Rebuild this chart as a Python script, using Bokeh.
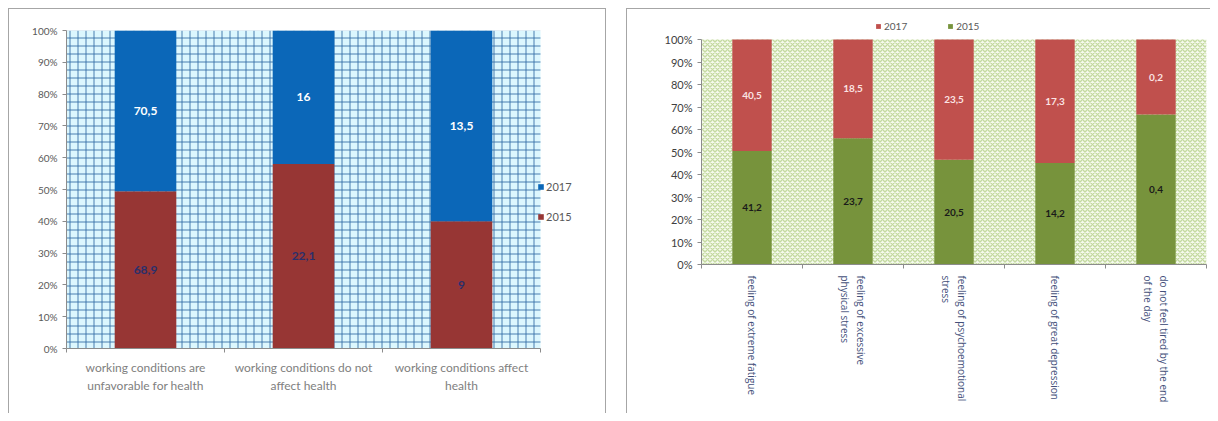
from bokeh.plotting import figure
from bokeh.models import (ColumnDataSource, Range1d, FixedTicker,
                          NumeralTickFormatter, BoxAnnotation, Legend, LegendItem)
from bokeh.layouts import row, column
from bokeh.core.properties import value
from bokeh.embed import file_html
from bokeh.resources import INLINE

# ---------------- data ----------------
left_categories = ["working conditions are\nunfavorable for health",
                   "working conditions do not\naffect health",
                   "working conditions affect\nhealth"]
left_2015 = [68.9, 22.1, 9]
left_2017 = [70.5, 16, 13.5]

right_categories = ["feeling of extreme fatigue",
                    "feeling of excessive\nphysical stress",
                    "feeling of psychoemotional\nstress",
                    "feeling of great depression",
                    "do not feel tired by the end\nof the day"]
right_2015 = [41.2, 23.7, 20.5, 14.2, 0.4]
right_2017 = [40.5, 18.5, 23.5, 17.3, 0.2]

y_ticks = [0, 0.1, 0.2, 0.3, 0.4, 0.5, 0.6, 0.7, 0.8, 0.9, 1.0]

FONT = "Lato"
BORDER = "1px solid #a6a6a6"


def fmt(v):
    return f"{v:g}".replace(".", ",")


def make_source(cats, a, b):
    tot = [x + y for x, y in zip(a, b)]
    fa = [x / t for x, t in zip(a, tot)]
    fb = [y / t for y, t in zip(b, tot)]
    return ColumnDataSource(dict(
        x=[i + 0.5 for i in range(len(cats))],
        f2015=fa, f2017=fb,
        mid2015=[v / 2 for v in fa],
        mid2017=[u + v / 2 for u, v in zip(fa, fb)],
        lab2015=[fmt(v) for v in a],
        lab2017=[fmt(v) for v in b],
    ))


def style_common(p, cats):
    n = len(cats)
    centers = [i + 0.5 for i in range(n)]
    p.xgrid.grid_line_color = None
    p.ygrid.grid_line_color = None
    p.outline_line_color = None
    p.background_fill_color = "white"
    p.border_fill_color = "white"
    p.yaxis.ticker = FixedTicker(ticks=y_ticks)
    p.yaxis.formatter = NumeralTickFormatter(format="0%")
    p.yaxis.bounds = (0, 1)
    p.yaxis.minor_tick_line_color = None
    p.yaxis.major_tick_in = 0
    p.yaxis.major_tick_out = 4
    p.yaxis.axis_line_color = "#8c8c8c"
    p.yaxis.major_tick_line_color = "#8c8c8c"
    p.xaxis.ticker = FixedTicker(ticks=centers, minor_ticks=list(range(n + 1)))
    p.xaxis.major_label_overrides = {c: lab for c, lab in zip(centers, cats)}
    p.xaxis.bounds = (0, n)
    p.xaxis.axis_line_color = "#8c8c8c"
    p.xaxis.major_tick_line_color = None
    p.xaxis.minor_tick_line_color = "#8c8c8c"
    p.xaxis.minor_tick_in = 0
    p.xaxis.minor_tick_out = 4
    p.yaxis.major_label_text_font = FONT
    p.xaxis.major_label_text_font = FONT


# ---------------- left chart ----------------
L_FRAME_W, L_CAT_W = 533, 474
src_l = make_source(left_categories, left_2015, left_2017)
p1 = figure(x_range=Range1d(0, len(left_categories) * L_FRAME_W / L_CAT_W),
            y_range=Range1d(0, 1),
            width=598, height=405,
            min_border_left=57, min_border_top=21, min_border_bottom=66,
            min_border_right=8,
            output_backend="svg", toolbar_location=None,
            styles={"border-left": BORDER, "border-top": BORDER,
                    "border-right": BORDER})
style_common(p1, left_categories)
p1.add_layout(BoxAnnotation(right=len(left_categories),
                            fill_color="#dcf7fe", fill_alpha=1,
                            hatch_pattern="+", hatch_color="#2f6aa3",
                            hatch_alpha=0.85, hatch_scale=8, hatch_weight=1,
                            line_color=None, level="underlay"))
rl = p1.vbar_stack(["f2015", "f2017"], x="x", width=0.39,
                   color=["#973634", "#0b67b8"], line_color=None, source=src_l)
p1.text(x="x", y="mid2017", text="lab2017", source=src_l,
        text_font=value(FONT), text_font_size="12px", text_font_style="bold",
        text_color="white", text_align="center", text_baseline="middle")
p1.text(x="x", y="mid2015", text="lab2015", source=src_l,
        text_font=value(FONT), text_font_size="12px", text_font_style="bold",
        text_color="#2b2f6b", text_align="center", text_baseline="middle")
p1.yaxis.major_label_text_font_size = "10px"
p1.yaxis.major_label_text_color = "#595959"
p1.xaxis.major_label_text_font_size = "12px"
p1.xaxis.major_label_text_color = "#808080"
leg1 = Legend(items=[LegendItem(label="2017", renderers=[rl[1]]),
                     LegendItem(label="2015", renderers=[rl[0]])],
              location=(471, 125), orientation="vertical",
              glyph_width=7, glyph_height=7, label_standoff=2,
              label_text_font=FONT, label_text_font_size="11px",
              label_text_color="#595959", border_line_color=None,
              background_fill_alpha=0, spacing=17, padding=0, margin=0)
p1.add_layout(leg1)

# ---------------- right chart ----------------
R_FRAME_H, R_TOP_EXTRA = 225, 26
src_r = make_source(right_categories, right_2015, right_2017)
p2 = figure(x_range=Range1d(0, len(right_categories)),
            y_range=Range1d(0, 1 + R_TOP_EXTRA / R_FRAME_H),
            width=584, height=405,
            min_border_left=74, min_border_top=4, min_border_bottom=150,
            min_border_right=5,
            output_backend="svg", toolbar_location=None,
            styles={"border-left": BORDER, "border-top": BORDER})
style_common(p2, right_categories)
p2.add_layout(BoxAnnotation(top=1, fill_color="#f6faee", fill_alpha=1,
                            hatch_pattern="x", hatch_color="#c4daa0",
                            hatch_alpha=1, hatch_scale=5, hatch_weight=1.4,
                            line_color=None, level="underlay"))
rr = p2.vbar_stack(["f2015", "f2017"], x="x", width=0.39,
                   color=["#77933c", "#c0504d"], line_color=None, source=src_r)
p2.text(x="x", y="mid2017", text="lab2017", source=src_r,
        text_font=value(FONT), text_font_size="10px", text_font_style="bold",
        text_color="#fbe4e3", text_align="center", text_baseline="middle")
p2.text(x="x", y="mid2015", text="lab2015", source=src_r,
        text_font=value(FONT), text_font_size="10px", text_font_style="bold",
        text_color="#1a1a1a", text_align="center", text_baseline="middle")
p2.yaxis.major_label_text_font_size = "11px"
p2.yaxis.major_label_text_color = "#404040"
p2.xaxis.major_label_orientation = "vertical"
p2.xaxis.major_label_text_font = "Open Sans"
p2.xaxis.major_label_text_font_size = "10px"
p2.xaxis.major_label_text_color = "#44507a"
leg2 = Legend(items=[LegendItem(label="2017", renderers=[rr[1]]),
                     LegendItem(label="2015", renderers=[rr[0]])],
              location=(174, 232), orientation="horizontal",
              glyph_width=6, glyph_height=6, label_standoff=3,
              label_text_font=FONT, label_text_font_size="10px",
              label_text_color="#595959", border_line_color=None,
              background_fill_alpha=0, spacing=40, padding=0, margin=0)
p2.add_layout(leg2)

layout = row(column(p1), column(p2), spacing=20, margin=(8, 0, 0, 8))
open("out.html", "w").write(file_html(layout, INLINE))
